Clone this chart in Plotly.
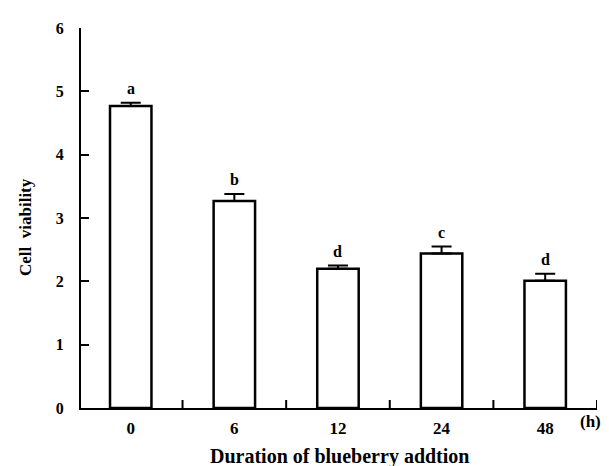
import plotly.graph_objects as go

categories = ["0", "6", "12", "24", "48"]
values = [4.77, 3.27, 2.20, 2.44, 2.01]
errors = [0.05, 0.11, 0.05, 0.11, 0.11]
letters = ["a", "b", "d", "c", "d"]
separators = [0.5, 1.5, 2.5, 3.5, 4.5]

pos = list(range(len(categories)))
FONT = "Liberation Serif"

fig = go.Figure()
fig.add_trace(go.Bar(
    x=pos, y=values, width=0.4,
    marker=dict(color="white", line=dict(color="black", width=2.5)),
    error_y=dict(type="data", symmetric=False, array=errors,
                 arrayminus=[0] * len(errors), color="black",
                 thickness=2, width=10),
    showlegend=False,
))

# x-axis separator ticks between the bars (pointing inward)
shapes = [dict(type="line", xref="x", yref="y", ysizemode="pixel", yanchor=0,
               x0=s, x1=s, y0=0, y1=8, layer="above",
               line=dict(color="black", width=2)) for s in separators]

annotations = []
for p, v, e, t in zip(pos, values, errors, letters):
    annotations.append(dict(x=p, y=v + e, text="<b>%s</b>" % t, showarrow=False,
                            yanchor="bottom", yshift=4,
                            font=dict(family=FONT, size=16, color="black")))
annotations.append(dict(x=4.32, y=0, yref="y", text="<b>(h)</b>", showarrow=False,
                        xanchor="left", yanchor="middle", yshift=-13,
                        font=dict(family=FONT, size=17, color="black")))
annotations.append(dict(x=0.5, xref="paper", y=0, yref="paper", yshift=-48,
                        text="<b>Duration of blueberry addtion</b>",
                        showarrow=False, yanchor="middle",
                        font=dict(family=FONT, size=20, color="black")))
annotations.append(dict(x=0, xref="paper", xshift=-56, y=0.5, yref="paper",
                        yshift=-9, xanchor="center", yanchor="middle",
                        text="<b>Cell  viability</b>", textangle=-90,
                        showarrow=False,
                        font=dict(family=FONT, size=17, color="black")))

fig.update_layout(
    width=601, height=458,
    margin=dict(l=73, r=12, t=16, b=58),
    plot_bgcolor="white", paper_bgcolor="white",
    font=dict(family=FONT, size=16, color="black"),
    annotations=annotations,
    shapes=shapes,
    xaxis=dict(range=[-0.48, 4.5], showgrid=False, zeroline=False,
               showline=True, linecolor="black", linewidth=2,
               tickmode="array", tickvals=pos,
               ticktext=["<b>%s</b>" % c for c in categories],
               tickfont=dict(family=FONT, size=17, color="black"),
               ticks="", ticklabelstandoff=4),
    yaxis=dict(range=[0, 6], dtick=1, showgrid=False, zeroline=False,
               showline=True, linecolor="black", linewidth=2,
               ticks="inside", ticklen=8, tickwidth=2, tickcolor="black",
               tickfont=dict(family=FONT, size=16, color="black"),
               tickprefix="<b>", ticksuffix="</b>", ticklabelstandoff=12),
)

fig.write_html("out.html")
